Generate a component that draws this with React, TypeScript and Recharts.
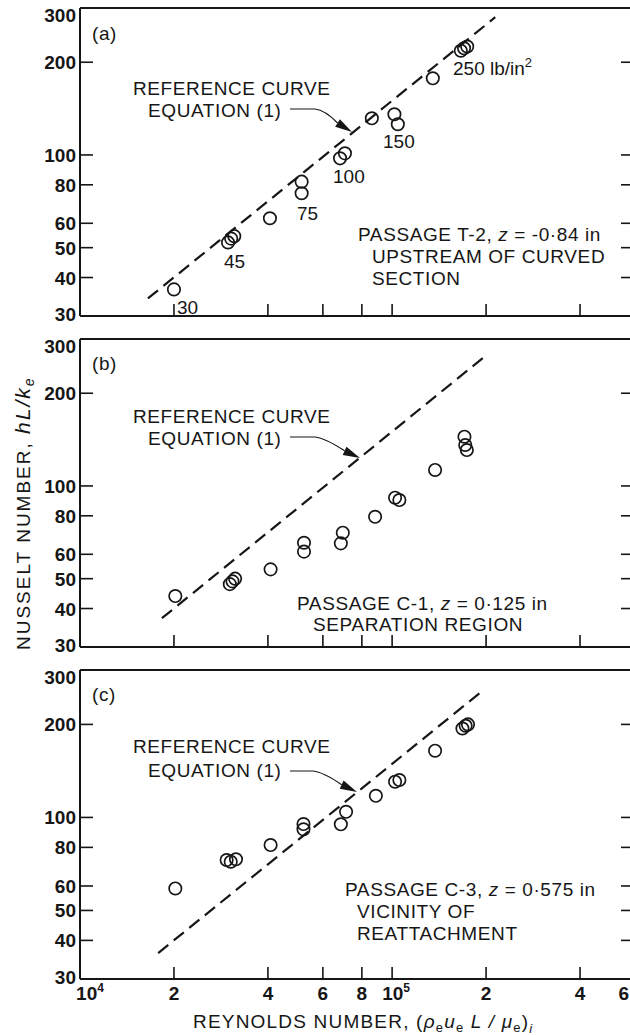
import React from 'react';
import { ComposedChart, XAxis, YAxis, Scatter, Line } from 'recharts';

// ---------- data ----------
// Panel (a) Passage T-2
const reA = [2.0e4, 2.98e4, 3.05e4, 3.12e4, 4.06e4, 5.13e4, 5.13e4, 6.81e4, 7.06e4, 8.61e4, 1.017e5, 1.043e5, 1.35e5, 1.66e5, 1.7e5, 1.74e5];
const nuA = [36.6, 52, 53.5, 54.5, 62.3, 81.9, 75.1, 97.5, 101.2, 131.5, 135.5, 125.8, 177.4, 218, 222, 225];
// Panel (b) Passage C-1
const reB = [2.02e4, 3.02e4, 3.08e4, 3.14e4, 4.08e4, 5.22e4, 5.22e4, 6.95e4, 6.85e4, 8.82e4, 1.022e5, 1.055e5, 1.373e5, 1.705e5, 1.715e5, 1.735e5];
const nuB = [43.9, 48, 49, 50, 53.6, 65.4, 61.2, 70.5, 65.1, 79.4, 91.6, 90.0, 112.7, 144.5, 135.8, 130.8];
// Panel (c) Passage C-3
const reC = [2.02e4, 2.95e4, 3.04e4, 3.16e4, 4.08e4, 5.2e4, 5.2e4, 6.85e4, 7.12e4, 8.87e4, 1.022e5, 1.055e5, 1.373e5, 1.68e5, 1.72e5, 1.75e5];
const nuC = [58.9, 72.8, 71.9, 73.2, 81.4, 91.5, 95.2, 95, 104.3, 117.5, 130.5, 132.1, 164.4, 194, 198, 200];

// Reference curve, equation (1): end points in each panel
const refReA = [1.65e4, 2.14e5];
const refNuA = [34.2, 280];
const refReB = [1.83e4, 1.96e5];
const refNuB = [37.2, 261];
const refReC = [1.78e4, 1.94e5];
const refNuC = [36.4, 256];

// Pressure labels in panel (a)
const pressureLabels = ['30', '45', '75', '100', '150', '250'];

// Axes
const xDomain = [1e4, 6e5];
const yDomain = [30, 300];
const xTicks = [1e4, 2e4, 4e4, 6e4, 8e4, 1e5, 2e5, 4e5, 6e5];
const xTickLabels = ['10^4', '2', '4', '6', '8', '10^5', '2', '4', '6'];
const yTicks = [30, 40, 50, 60, 80, 100, 200, 300];
const yTickLabels = ['30', '40', '50', '60', '80', '100', '200', '300'];

const zip = (re: number[], nu: number[]) => re.map((r, i) => ({ re: r, nu: nu[i] }));

const INK = '#161616';
const FONT = '"Liberation Sans", Arial, sans-serif';

// ---------- tick renderers ----------
const LeftTick = (props: any) => {
  const { x, y, payload } = props;
  const v = payload.value;
  const label = yTickLabels[yTicks.indexOf(v)];
  const edge = v === 300 || v === 30;
  const dy = v === 300 ? 7 : v === 30 ? -2 : 0;
  return (
    <g>
      {!edge && <line x1={x} x2={x + 13} y1={y} y2={y} stroke={INK} strokeWidth={1.6} />}
      <text x={x - 4} y={y + dy + 7} textAnchor="end" fontFamily={FONT} fontSize={19} fontWeight="bold" fill={INK}>
        {label}
      </text>
    </g>
  );
};

const RightTick = (props: any) => {
  const { x, y, payload } = props;
  const v = payload.value;
  if (v === 300 || v === 30) return <g />;
  return <line x1={x - 14} x2={x} y1={y} y2={y} stroke={INK} strokeWidth={1.6} />;
};

const TopTick = (props: any) => {
  const { x, y, payload } = props;
  if (payload.value === 1e4) return <g />;
  return <line x1={x} x2={x} y1={y} y2={y + 12} stroke={INK} strokeWidth={1.6} />;
};

const BottomTick = (props: any) => {
  const { x, y, payload, showLabel } = props;
  const v = payload.value;
  const label = xTickLabels[xTicks.indexOf(v)] || '';
  const [base, sup] = label.split('^');
  const last = v === xTicks[xTicks.length - 1];
  const shift = v === 1e4 ? 10 : sup ? 4 : 0;
  return (
    <g>
      {v !== 1e4 && <line x1={x} x2={x} y1={y} y2={y - 12} stroke={INK} strokeWidth={1.6} />}
      {showLabel && (
        <text
          x={last ? 629 : x + shift}
          y={y + 21}
          textAnchor={last ? 'end' : 'middle'}
          fontFamily={FONT}
          fontSize={19}
          fontWeight="bold"
          fill={INK}
        >
          {base}
          {sup && (
            <tspan dy={-8} fontSize={12}>
              {sup}
            </tspan>
          )}
        </text>
      )}
    </g>
  );
};

const Ring = (props: any) => {
  const { cx, cy } = props;
  if (cx == null || cy == null) return <g />;
  return <circle cx={cx} cy={cy} r={6.2} fill="none" stroke={INK} strokeWidth={1.7} />;
};

// ---------- one panel ----------
function Panel(props: {
  top: number;
  height: number;
  topH: number;
  botH: number;
  points: { re: number; nu: number }[];
  refLine: { re: number; nu: number }[];
  showXLabels: boolean;
}) {
  const { top, height, topH, botH, points, refLine, showXLabels } = props;
  return (
    <div style={{ position: 'absolute', left: 0, top }}>
      <ComposedChart width={660} height={height} margin={{ top: 0, right: 0, bottom: 0, left: 0 }}>
        <XAxis
          dataKey="re"
          type="number"
          scale="log"
          domain={xDomain}
          allowDataOverflow
          ticks={xTicks}
          interval={0}
          orientation="bottom"
          height={botH}
          tickSize={0}
          tickMargin={0}
          tickLine={false}
          axisLine={{ stroke: INK, strokeWidth: 2 }}
          tick={(p: any) => <BottomTick {...p} showLabel={showXLabels} />}
        />
        <XAxis
          xAxisId="t"
          type="number"
          scale="log"
          domain={xDomain}
          allowDataOverflow
          ticks={xTicks}
          interval={0}
          orientation="top"
          height={topH}
          tickSize={0}
          tickMargin={0}
          tickLine={false}
          axisLine={{ stroke: INK, strokeWidth: 2 }}
          tick={(p: any) => <TopTick {...p} />}
        />
        <YAxis
          type="number"
          scale="log"
          domain={yDomain}
          allowDataOverflow
          ticks={yTicks}
          interval={0}
          width={80}
          tickSize={0}
          tickMargin={0}
          tickLine={false}
          axisLine={{ stroke: INK, strokeWidth: 2 }}
          tick={(p: any) => <LeftTick {...p} />}
        />
        <YAxis
          yAxisId="r"
          orientation="right"
          type="number"
          scale="log"
          domain={yDomain}
          allowDataOverflow
          ticks={yTicks}
          interval={0}
          width={25}
          tickSize={0}
          tickMargin={0}
          tickLine={false}
          axisLine={{ stroke: INK, strokeWidth: 2 }}
          tick={(p: any) => <RightTick {...p} />}
        />
        <Line
          data={refLine}
          dataKey="nu"
          stroke={INK}
          strokeWidth={2.2}
          strokeDasharray="13 7"
          dot={false}
          activeDot={false}
          isAnimationActive={false}
        />
        <Scatter data={points} dataKey="nu" shape={(p: any) => <Ring {...p} />} isAnimationActive={false} />
      </ComposedChart>
    </div>
  );
}

// ---------- annotation helpers ----------
function Leader(props: { x0: number; x1: number; y: number; tx: number; ty: number }) {
  const { x0, x1, y, tx, ty } = props;
  const dx = tx - x1;
  const dy = ty - y;
  const L = Math.hypot(dx, dy);
  const ux = dx / L;
  const uy = dy / L;
  const bx = tx - ux * 17;
  const by = ty - uy * 17;
  const px = -uy * 4.5;
  const py = ux * 4.5;
  return (
    <g>
      <path d={`M${x0} ${y} L${x1} ${y} Q${x1 + 10} ${y + 1} ${bx} ${by}`} fill="none" stroke={INK} strokeWidth={1.2} />
      <polygon points={`${tx},${ty} ${bx + px},${by + py} ${bx - px},${by - py}`} fill={INK} />
    </g>
  );
}

const T = (props: { x: number; y: number; children: React.ReactNode; ls?: number }) => (
  <text x={props.x} y={props.y} fontFamily={FONT} fontSize={19} fill={INK} letterSpacing={props.ls ?? 0.6}>
    {props.children}
  </text>
);

function Annotations() {
  return (
    <svg width={630} height={1035} style={{ position: 'absolute', left: 0, top: 0, pointerEvents: 'none' }}>
      {/* panel (a) */}
      <T x={92} y={40}>(a)</T>
      <T x={133} y={95}>REFERENCE CURVE</T>
      <T x={148} y={117}>EQUATION (1)</T>
      <Leader x0={290} x1={315} y={109} tx={352} ty={132} />
      <T x={177} y={314} ls={0}>{pressureLabels[0]}</T>
      <T x={224} y={268} ls={0}>{pressureLabels[1]}</T>
      <T x={297} y={220} ls={0}>{pressureLabels[2]}</T>
      <T x={333} y={183} ls={0}>{pressureLabels[3]}</T>
      <T x={383} y={148} ls={0}>{pressureLabels[4]}</T>
      <T x={453} y={75} ls={0}>
        {pressureLabels[5]} lb/in
        <tspan dy={-8} fontSize={13}>2</tspan>
      </T>
      <T x={358} y={241}>
        PASSAGE T-2, <tspan fontStyle="italic">z</tspan> = -0·84 in
      </T>
      <T x={372} y={263}>UPSTREAM OF CURVED</T>
      <T x={372} y={285}>SECTION</T>

      {/* panel (b) */}
      <T x={92} y={370}>(b)</T>
      <T x={133} y={423}>REFERENCE CURVE</T>
      <T x={148} y={445}>EQUATION (1)</T>
      <Leader x0={290} x1={315} y={437} tx={360} ty={458} />
      <T x={297} y={610}>
        PASSAGE C-1, <tspan fontStyle="italic">z</tspan> = 0·125 in
      </T>
      <T x={313} y={631}>SEPARATION REGION</T>

      {/* panel (c) */}
      <T x={92} y={701}>(c)</T>
      <T x={133} y={753}>REFERENCE CURVE</T>
      <T x={148} y={777}>EQUATION (1)</T>
      <Leader x0={290} x1={313} y={771} tx={357} ty={792} />
      <T x={345} y={896}>
        PASSAGE C-3, <tspan fontStyle="italic">z</tspan> = 0·575 in
      </T>
      <T x={357} y={918}>VICINITY OF</T>
      <T x={357} y={940}>REATTACHMENT</T>

      {/* axis titles */}
      <text x={193} y={1028} fontFamily={FONT} fontSize={19} fill={INK} letterSpacing={1.2}>
        REYNOLDS NUMBER, (<tspan fontStyle="italic">ρ</tspan>
        <tspan fontSize={13} dy={4}>e</tspan>
        <tspan fontStyle="italic" dy={-4}>u</tspan>
        <tspan fontSize={13} dy={4}>e</tspan>
        <tspan fontStyle="italic" dy={-4}> L / μ</tspan>
        <tspan fontSize={13} dy={4}>e</tspan>
        <tspan dy={-4}>)</tspan>
        <tspan fontSize={13} fontStyle="italic" dy={5}>i</tspan>
      </text>
      <text
        transform="translate(30,650) rotate(-90)"
        x={0}
        y={0}
        fontFamily={FONT}
        fontSize={19}
        fill={INK}
        letterSpacing={2}
      >
        NUSSELT NUMBER, <tspan fontStyle="italic" fontSize={21}>hL/k</tspan>
        <tspan fontStyle="italic" fontSize={14} dy={4}>e</tspan>
      </text>
    </svg>
  );
}

export default function App() {
  return (
    <div
      style={{
        position: 'fixed',
        left: 0,
        top: 0,
        width: 630,
        height: 1035,
        overflow: 'hidden',
        background: '#ffffff',
      }}
    >
      <Panel top={0} height={330} topH={8} botH={14} points={zip(reA, nuA)} refLine={zip(refReA, refNuA)} showXLabels={false} />
      <Panel top={330} height={330} topH={9} botH={13} points={zip(reB, nuB)} refLine={zip(refReB, refNuB)} showXLabels={false} />
      <Panel top={660} height={375} topH={10} botH={56} points={zip(reC, nuC)} refLine={zip(refReC, refNuC)} showXLabels={true} />
      <Annotations />
    </div>
  );
}
